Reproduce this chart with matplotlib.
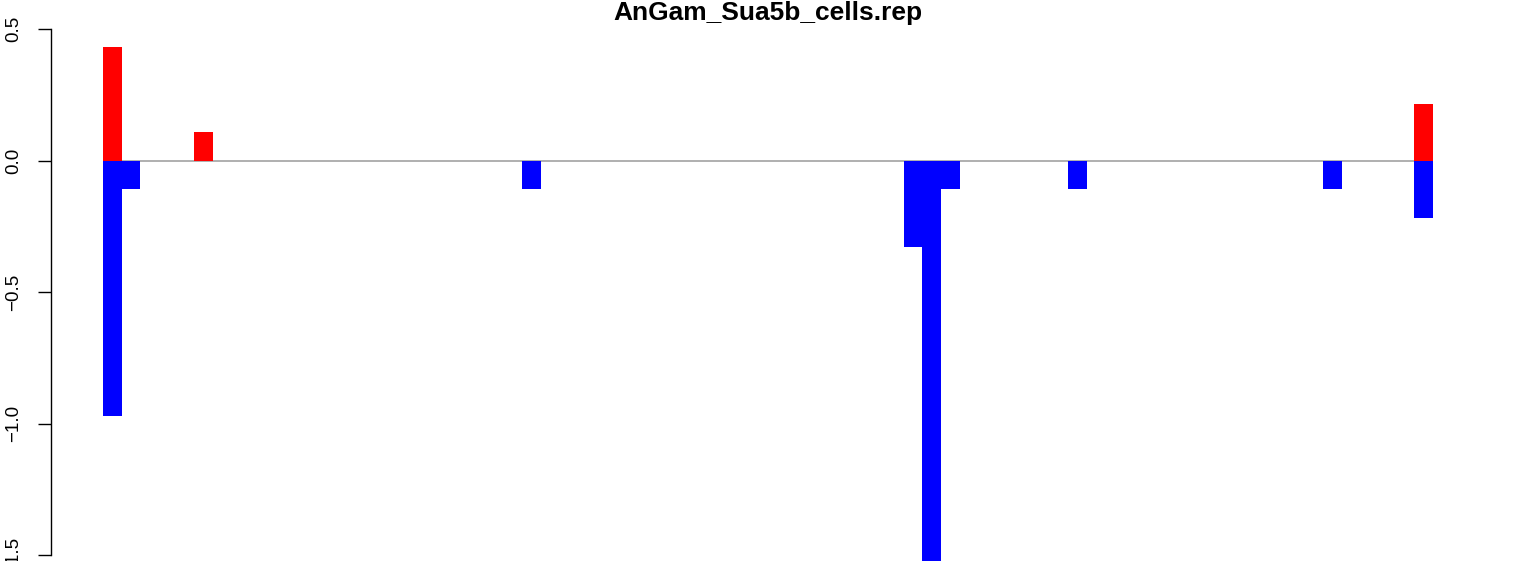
import matplotlib
matplotlib.use('Agg')
import matplotlib.pyplot as plt
import numpy as np

plt.rcParams['font.family'] = ['Liberation Sans', 'DejaVu Sans']

title = 'AnGam_Sua5b_cells.rep'
n_pos = 73

# positive (red) and negative (blue) scores per position
pos_idx = [0, 5, 72]
pos_val = [0.43, 0.11, 0.215]
neg_idx = [0, 1, 23, 44, 45, 46, 53, 67, 72]
neg_val = [-0.97, -0.11, -0.11, -0.33, -1.60, -0.11, -0.11, -0.11, -0.22]

yticks = [-1.5, -1.0, -0.5, 0.0, 0.5]

W, H = 1536, 561
fig = plt.figure(figsize=(W / 100, H / 100), dpi=100)
ax = fig.add_axes([51 / W, 0, 1 - 51 / W, 1])

unit = 18.208  # pixels per position
x0 = 103
ax.set_xlim((51 - x0) / unit, (W - x0) / unit)
ppu = 263.0
ax.set_ylim(-1.5 - (H - 555) / ppu, 0.5 + 29 / ppu)

ax.hlines(0, 0, n_pos, color='#a9a9a9', lw=1.3, zorder=1)
ax.bar(pos_idx, pos_val, width=1.04, align='edge', color='#ff0000', lw=0, zorder=2)
ax.bar(neg_idx, neg_val, width=1.04, align='edge', color='#0000ff', lw=0, zorder=2)

for s in ['top', 'right', 'bottom']:
    ax.spines[s].set_visible(False)
ax.spines['left'].set_bounds(-1.5, 0.5)
ax.spines['left'].set_linewidth(1.0)
ax.set_xticks([])
ax.set_yticks(yticks)
ax.set_yticklabels([('%.1f' % v).replace('-', '\u2212') for v in yticks],
                   rotation=90, va='center', fontsize=13.5)
ax.tick_params(axis='y', length=9.5, width=1.0, pad=11.5)

fig.text(0.5, 1 - 20 / H, title, ha='center', va='baseline',
         fontsize=19, fontweight='bold')

fig.savefig('out.png', dpi=100)
